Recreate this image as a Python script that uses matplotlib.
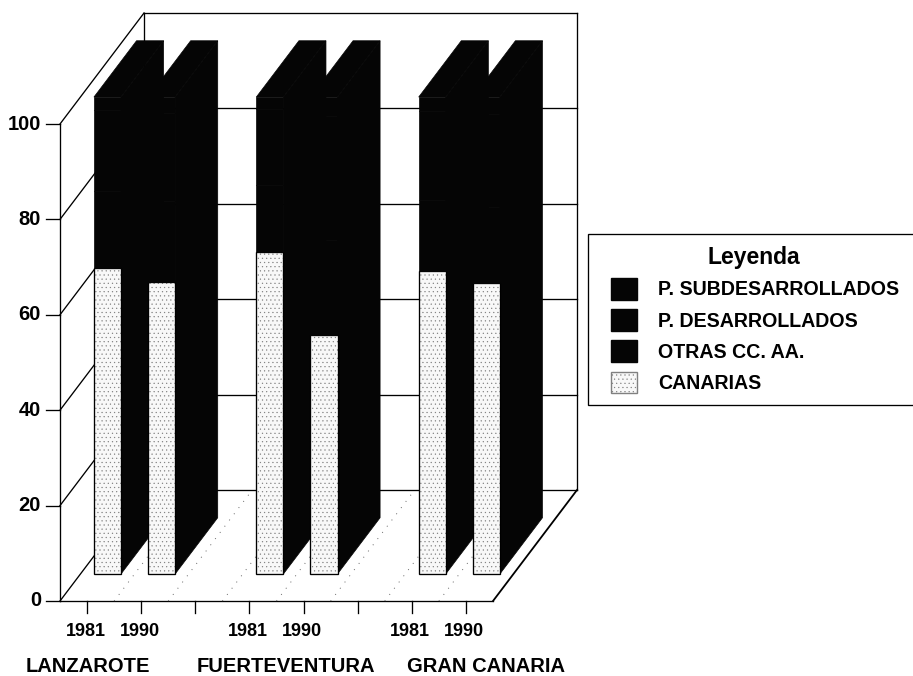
import matplotlib
matplotlib.use("Agg")
import matplotlib.pyplot as plt
from matplotlib.legend_handler import HandlerPatch
from matplotlib.patches import Patch, Polygon

plt.rcParams['font.family'] = ['Liberation Sans', 'DejaVu Sans']
plt.rcParams['font.weight'] = 'bold'
plt.rcParams['hatch.linewidth'] = 0.35

# datos (porcentajes; las tres series negras son estimadas)
islas = ['LANZAROTE', 'FUERTEVENTURA', 'GRAN CANARIA']
anios = ['1981', '1990']
canarias = [64.2, 61.2, 67.5, 50.1, 63.5, 61.0]
otras = [16.0, 17.0, 14.0, 20.0, 15.0, 16.0]
desarrollados = [17.0, 18.5, 16.0, 26.0, 18.5, 19.5]
subdesarrollados = [2.8, 3.3, 2.5, 3.9, 3.0, 3.5]
nombres = ['CANARIAS', 'OTRAS CC. AA.', 'P. DESARROLLADOS', 'P. SUBDESARROLLADOS']
yticks = [0, 20, 40, 60, 80, 100]

W, H = 913, 676
x0_px, y0_px = 60, 601      # origen de los ejes en pixeles
slot_px = 433 / 8           # ancho de una casilla del eje x
unit_px = 477 / 100         # pixeles por punto porcentual
dx_fondo = 84 / slot_px     # desplazamiento oblicuo del fondo
dy_fondo = 111 / unit_px
d1, d2 = 0.243, 0.75        # profundidad de las barras
ancho = 0.5
negro = '#050505'
claro = '#f8f8f8'


def P(x, y, d=0):
    return (x + d * dx_fondo, y + d * dy_fondo)


fig = plt.figure(figsize=(W / 100, H / 100), dpi=100)
ax = fig.add_axes([0, 0, 1, 1])
ax.set_xlim(-x0_px / slot_px, (W - x0_px) / slot_px)
ax.set_ylim((y0_px - H) / unit_px, y0_px / unit_px)
ax.axis('off')


def linea(a, b, **kw):
    kw.setdefault('color', 'black')
    kw.setdefault('lw', 0.95)
    ax.plot([a[0], b[0]], [a[1], b[1]], solid_capstyle='projecting', zorder=1, **kw)


# paredes y rejilla
for v in yticks:
    linea(P(0, v), P(0, v, 1))
    linea(P(0, v, 1), P(8, v, 1))
    linea((-14 / slot_px, v), P(0, v))
    ax.text(-19 / slot_px, v, str(v), ha='right', va='center', fontsize=14.5)
linea(P(0, 0), P(0, 100))
linea(P(0, 0, 1), P(0, 100, 1))
linea(P(8, 0, 1), P(8, 100, 1))
linea(P(0, 0), P(8, 0))
linea(P(8, 0), P(8, 0, 1), lw=1.3)

# lineas punteadas del suelo
for k in range(1, 8):
    linea(P(k, 0), P(k, 0, 1), color='#666666', lw=0.7, linestyle=(0, (1, 7)))

# marcas y etiquetas del eje x
posiciones = [0, 1, 3, 4, 6, 7]
for k in range(8):
    linea((k + 0.5, 0), (k + 0.5, -12 / unit_px))
for i, k in enumerate(posiciones):
    ax.text(k + 0.47, -31 / unit_px, anios[i % 2], ha='center', va='center', fontsize=13)
for nombre, xc in zip(islas, [0.52, 4.18, 7.87]):
    ax.text(xc, -66 / unit_px, nombre, ha='center', va='center', fontsize=14.5)

# barras apiladas
series = [canarias, otras, desarrollados, subdesarrollados]
colores = [claro, negro, negro, negro]
for i, k in enumerate(posiciones):
    iz = k + 0.5 - ancho / 2
    de = k + 0.5 + ancho / 2
    total = sum(s[i] for s in series)
    ax.add_patch(Polygon([P(de, 0, d1), P(de, 0, d2), P(de, total, d2), P(de, total, d1)],
                         fc=negro, ec=negro, lw=0.5, zorder=3))
    ax.add_patch(Polygon([P(iz, total, d1), P(de, total, d1), P(de, total, d2), P(iz, total, d2)],
                         fc=negro, ec=negro, lw=0.5, zorder=3))
    base = 0
    for s, c in zip(series, colores):
        cara = [P(iz, base, d1), P(de, base, d1), P(de, base + s[i], d1), P(iz, base + s[i], d1)]
        if c == claro:
            ax.add_patch(Polygon(cara, fc=c, ec='#808080', lw=0, hatch='....', zorder=3))
            ax.add_patch(Polygon(cara, fc='none', ec='black', lw=0.95, zorder=3))
        else:
            ax.add_patch(Polygon(cara, fc=c, ec=negro, lw=0.5, zorder=3))
        base += s[i]

# leyenda
handles = [Patch(fc=colores[j], ec='#808080' if colores[j] == claro else negro,
                 hatch='....' if colores[j] == claro else None, label=nombres[j])
           for j in [3, 2, 1, 0]]
leg = ax.legend(handles=handles, title='Leyenda', loc='upper left', mode='expand',
                bbox_to_anchor=(588 / W, 1 - 407 / H, 332 / W, 173 / H), borderaxespad=0,
                fontsize=14.1, title_fontproperties={'size': 16.5, 'weight': 'bold'},
                handlelength=1.9, handleheight=1.35, handletextpad=1.07, labelspacing=0.47,
                borderpad=0.6, fancybox=False, edgecolor='black', framealpha=1,
                handler_map={Patch: HandlerPatch(xpad=0.57)})
leg.get_frame().set_linewidth(0.95)
leg.set_zorder(5)

fig.savefig('out.png', dpi=100)
